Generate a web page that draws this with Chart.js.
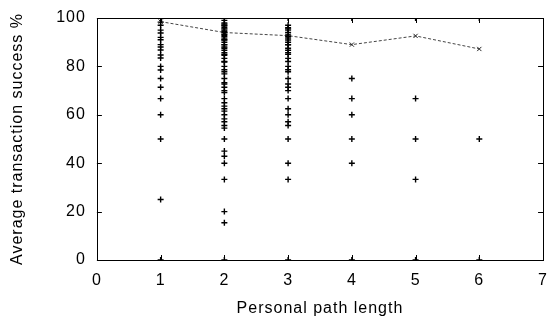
<!DOCTYPE html>
<html>
<head>
<meta charset="utf-8">
<script src="https://cdn.jsdelivr.net/npm/chart.js@4.4.0/dist/chart.umd.min.js"></script>
<style>
  html, body { margin: 0; padding: 0; background: #fff; }
  #wrap { width: 550px; height: 320px; }
</style>
</head>
<body>
<div id="wrap"><canvas id="chart"></canvas></div>
<script>
// success % per user, grouped by personal path length
const len1 = [100, 98.3, 97, 95, 93.8, 92, 91, 89, 88, 86.8, 84.7, 83.5, 80, 78.5, 75, 71.4, 66.7, 60, 50, 25, 0];
const len2 = [100, 99, 98, 97.5, 97, 96.7, 96, 95.5, 95, 94.4, 94, 93.3, 92.9, 92.3, 91.7, 91, 90.9, 90, 89, 88.9,
  88, 87.5, 86.7, 85.7, 85, 84.6, 83.3, 82, 81.8, 80, 78.6, 77.8, 76.9, 75, 73.3, 72.7, 71.4, 70, 69.2, 66.7,
  65, 63.6, 62.5, 61.5, 60, 58.3, 57.1, 55.6, 54.5, 50, 45, 42.9, 40, 33.3, 20, 15.4, 0];
const len3 = [100, 97, 96, 95.5, 95, 94, 93, 92.3, 91.7, 90.9, 90, 89, 88.9, 87.5, 86.7, 85.7, 85, 83.3, 82, 80,
  78.6, 77.8, 75, 72.7, 71.4, 70, 66.7, 62.5, 60, 57.1, 55.6, 50, 40, 33.3, 0];
const len4 = [100, 75, 66.7, 60, 50, 40, 0];
const len5 = [100, 66.7, 50, 33.3, 0];
const len6 = [100, 50, 0];

const pathLengths = [1, 2, 3, 4, 5, 6];
const averages = [98.5, 94, 92.7, 89, 92.6, 87.2];

const groups = [len1, len2, len3, len4, len5, len6];
const points = [];
groups.forEach((vals, i) => {
  vals.forEach(v => points.push({ x: pathLengths[i], y: v }));
});

// wider text, like the original postscript font
const spacing = {
  id: "spacing",
  beforeUpdate(chart) { chart.ctx.letterSpacing = "1px"; },
  beforeDraw(chart) { chart.ctx.letterSpacing = "1px"; }
};

// gnuplot style: box border with inward ticks on all sides
const innerTicks = {
  id: "innerTicks",
  afterDraw(chart) {
    const { ctx, chartArea: a, scales } = chart;
    const len = 5;
    ctx.save();
    ctx.strokeStyle = "#000";
    ctx.lineWidth = 1;
    ctx.strokeRect(Math.round(a.left) + 0.5, Math.round(a.top) + 0.5,
      Math.round(a.right - a.left), Math.round(a.bottom - a.top));
    ctx.beginPath();
    scales.x.ticks.forEach(t => {
      const px = Math.round(scales.x.getPixelForValue(t.value)) + 0.5;
      ctx.moveTo(px, a.bottom); ctx.lineTo(px, a.bottom - len);
      ctx.moveTo(px, a.top); ctx.lineTo(px, a.top + len);
    });
    scales.y.ticks.forEach(t => {
      const py = Math.round(scales.y.getPixelForValue(t.value)) + 0.5;
      ctx.moveTo(a.left, py); ctx.lineTo(a.left + len, py);
      ctx.moveTo(a.right, py); ctx.lineTo(a.right - len, py);
    });
    ctx.stroke();
    ctx.restore();
  }
};

Chart.defaults.font.family = "'Liberation Sans', Arial, sans-serif";
Chart.defaults.color = "#000";

new Chart(document.getElementById("chart"), {
  type: "scatter",
  data: {
    datasets: [
      {
        label: "users",
        data: points,
        pointStyle: "cross",
        pointRadius: 3,
        borderColor: "#000",
        borderWidth: 1.4,
        backgroundColor: "#000"
      },
      {
        label: "average",
        type: "line",
        data: pathLengths.map((x, i) => ({ x: x, y: averages[i] })),
        borderColor: "#444",
        borderWidth: 1,
        borderDash: [3, 2],
        pointStyle: "crossRot",
        pointRadius: 3,
        pointBorderColor: "#222",
        fill: false,
        tension: 0
      }
    ]
  },
  options: {
    responsive: true,
    maintainAspectRatio: false,
    animation: false,
    layout: { padding: { top: 18, right: 0, left: 8, bottom: 3 } },
    plugins: {
      legend: { display: false },
      tooltip: { enabled: false }
    },
    scales: {
      x: {
        min: 0,
        max: 7,
        grid: { display: false, drawTicks: false },
        border: { display: false },
        ticks: { stepSize: 1, font: { size: 16, lineHeight: "37px" }, padding: 2 },
        title: {
          display: true,
          text: "Personal path length",
          font: { size: 16, lineHeight: 1 },
          padding: { top: 0, bottom: 0 }
        }
      },
      y: {
        min: 0,
        max: 100,
        grid: { display: false, drawTicks: false },
        border: { display: false },
        ticks: { stepSize: 20, font: { size: 16, lineHeight: 0.8 }, padding: 11 },
        title: {
          display: true,
          text: "Average transaction success %",
          font: { size: 16 },
          padding: { top: 0, bottom: 18 }
        }
      }
    }
  },
  plugins: [spacing, innerTicks]
});
</script>
</body>
</html>
